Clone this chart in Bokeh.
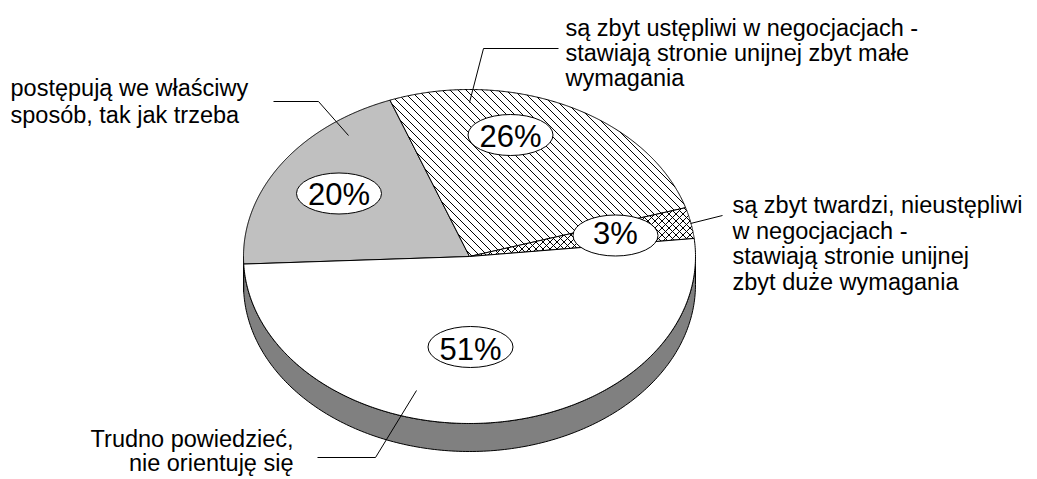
import numpy as np
from bokeh.plotting import figure
from bokeh.models import Range1d
from bokeh.embed import file_html
from bokeh.resources import INLINE
from bokeh.core.properties import value

# ---------------- data ----------------
categories = [
    "postępują we właściwy sposób, tak jak trzeba",
    "są zbyt ustępliwi w negocjacjach - stawiają stronie unijnej zbyt małe wymagania",
    "są zbyt twardzi, nieustępliwi w negocjacjach - stawiają stronie unijnej zbyt duże wymagania",
    "Trudno powiedzieć, nie orientuję się",
]
percents = [20, 26, 3, 51]
label_lines = [
    ["postępują we właściwy", "sposób, tak jak trzeba"],
    ["są zbyt ustępliwi w negocjacjach -", "stawiają stronie unijnej zbyt małe", "wymagania"],
    ["są zbyt twardzi, nieustępliwi", "w negocjacjach -", "stawiają stronie unijnej", "zbyt duże wymagania"],
    ["Trudno powiedzieć,", "nie orientuję się"],
]

# ---------------- layout / style ----------------
W, H = 1037, 479
CX, CY, RX, RY, DEPTH = 469.0, 256.0, 226.0, 167.0, 28.0
START_DEG = 182.6  # first slice starts here, drawn clockwise
fills = ["#C0C0C0", "white", "white", "white"]
# hatch: list of (direction dy/dx sign, spacing)
hatches = [[], [(1, 8.0)], [(1, 7.0), (-1, 7.0)], []]
side_fills = ["#606060", "#808080", "#808080", "#808080"]

pct_pos = [(338.5, 193.5), (510.0, 135.5), (615.0, 233.0), (470.0, 349.0)]
pct_font = "31px"
ell_w, ell_h = 85, 41
ell_pos = [(338.5, 193.0), (510.0, 134.5), (615.0, 235.0), (470.0, 346.5)]

lab_font = "23.5px"
LAB_MID = 0.3465 * 23.5 - 2.0  # baseline -> em-box middle offset
lab_anchor = [(10, 94, "left", 26.5), (565, 34, "left", 25.0),
              (732, 211, "left", 25.4), (293, 444.5, "right", 24.5)]
leaders = [
    [(273, 101), (318, 101), (348, 135)],
    [(558, 48), (483, 48), (469, 102)],
    [(690, 223), (722, 215)],
    [(416, 390), (375, 457), (317, 457)],
]

p = figure(width=W, height=H, output_backend="svg", toolbar_location=None,
           x_range=Range1d(0, W), y_range=Range1d(H, 0),
           x_axis_location=None, y_axis_location=None, min_border=0)
p.grid.visible = False
p.outline_line_color = None
p.background_fill_color = "white"
p.border_fill_color = "white"


def ell_pt(t_deg, dy=0.0):
    t = np.radians(t_deg)
    return CX + RX * np.cos(t), CY - RY * np.sin(t) + dy


def clip_convex(px, py, p0, d):
    """Cyrus-Beck clip of infinite line p0 + s*d against convex polygon."""
    n = len(px)
    cxm, cym = np.mean(px), np.mean(py)
    s_lo, s_hi = -1e9, 1e9
    for i in range(n):
        x1, y1 = px[i], py[i]
        x2, y2 = px[(i + 1) % n], py[(i + 1) % n]
        ex, ey = x2 - x1, y2 - y1
        if abs(ex) + abs(ey) < 1e-9:
            continue
        nx, ny = ey, -ex
        if nx * (cxm - x1) + ny * (cym - y1) < 0:
            nx, ny = -nx, -ny
        num = nx * (p0[0] - x1) + ny * (p0[1] - y1)
        den = nx * d[0] + ny * d[1]
        if abs(den) < 1e-12:
            if num < 0:
                return None
            continue
        s = -num / den
        if den > 0:
            s_lo = max(s_lo, s)
        else:
            s_hi = min(s_hi, s)
        if s_lo >= s_hi:
            return None
    return s_lo, s_hi


# slice angle intervals (clockwise from START_DEG)
intervals = []
cur = START_DEG
for v in percents:
    span = 360.0 * v / sum(percents)
    intervals.append((cur - span, cur))
    cur -= span

# ---- sides (front visible where sin t < 0) ----
for (a, b), sc in zip(intervals, side_fills):
    for lo_w, hi_w in [(-180.0, 0.0), (180.0, 360.0), (-540.0, -360.0)]:
        lo, hi = max(a, lo_w), min(b, hi_w)
        if hi - lo <= 0.01:
            continue
        ts = np.linspace(lo, hi, 200)
        xt, yt = ell_pt(ts)
        xb, yb = ell_pt(ts[::-1], DEPTH)
        p.patch(list(xt) + list(xb), list(yt) + list(yb),
                fill_color=sc, line_color="black", line_width=1)

# ---- top face ----
for (a, b), fc, hs in zip(intervals, fills, hatches):
    ts = np.linspace(a, b, 300)
    xs, ys = ell_pt(ts)
    xs = [CX] + list(xs)
    ys = [CY] + list(ys)
    p.patch(xs, ys, fill_color=fc, line_color=None)
    segx, segy = [], []
    for sgn, sp in hs:
        d = (1.0, float(sgn))
        # lines: y - sgn*x = c
        cvals = np.array(ys) - sgn * np.array(xs)
        c0 = np.floor(cvals.min() / sp) * sp
        for c in np.arange(c0, cvals.max() + sp, sp):
            r = clip_convex(xs, ys, (0.0, c), d)
            if r is None:
                continue
            s0, s1 = r
            segx.append([s0, s1])
            segy.append([c + sgn * s0, c + sgn * s1])
    if segx:
        p.multi_line(segx, segy, line_color="black", line_width=1)
    p.patch(xs, ys, fill_color=None, line_color="black", line_width=1)

# ---- leader lines ----
for pts in leaders:
    p.line([q[0] for q in pts], [q[1] for q in pts], line_color="black",
           line_width=1)

# ---- percentage labels ----
p.ellipse([q[0] for q in ell_pos], [q[1] for q in ell_pos], width=ell_w,
          height=ell_h, fill_color="white", line_color="black", line_width=1)
p.text([q[0] for q in pct_pos], [q[1] for q in pct_pos],
       text=[f"{v}%" for v in percents], text_font=value("Liberation Sans"),
       text_font_size=pct_font, text_align="center",
       text_baseline="middle", text_color="black")

# ---- category labels ----
for lines, (x0, y0, al, pitch) in zip(label_lines, lab_anchor):
    p.text([x0] * len(lines),
           [y0 - LAB_MID + i * pitch for i in range(len(lines))],
           text=lines, text_font=value("Liberation Sans"),
           text_font_size=lab_font, text_align=al,
           text_baseline="middle", text_color="black")

open("out.html", "w").write(file_html(p, INLINE))
